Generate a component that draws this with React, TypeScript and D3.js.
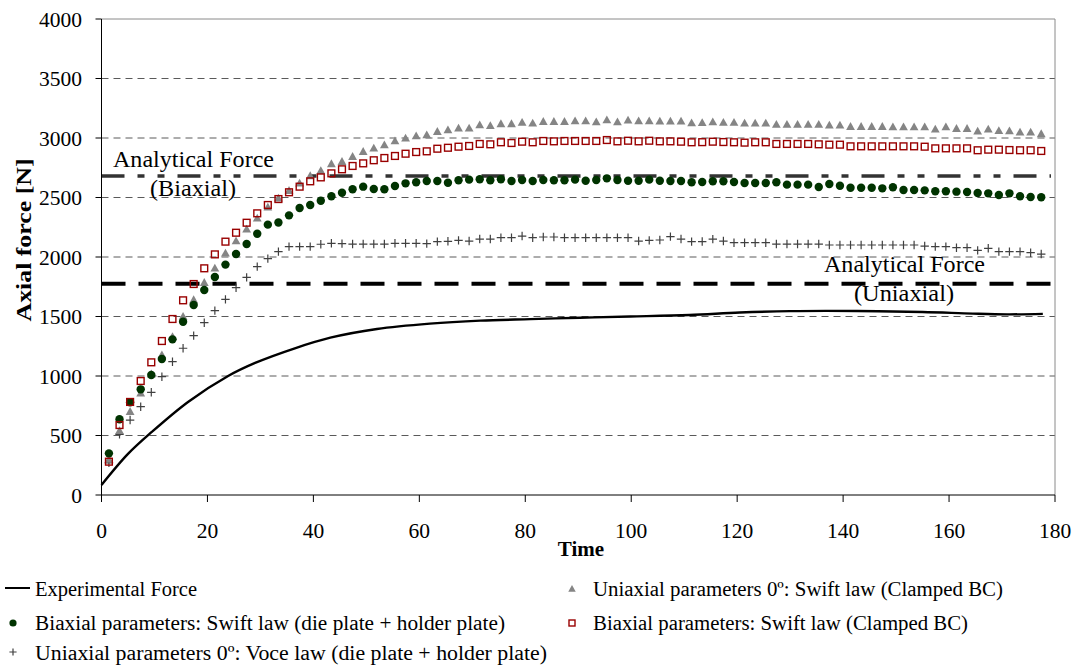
import React from "react";
import * as d3 from "d3";

// ---- data ----
const simTime: number[] = d3.range(1.4, 178, 2);

const expTime = [0, 5, 9.5, 16.4, 23.9, 29, 36.5, 43.2, 52, 62, 71.5, 81, 90.3, 99.8, 111, 120.5, 130, 142.6, 155, 164.5, 171, 177.7];
const expForce = [84, 345, 530, 784, 1000, 1110, 1233, 1322, 1395, 1440, 1465, 1478, 1490, 1500, 1513, 1533, 1545, 1546, 1538, 1524, 1518, 1522];

const biaxSwiftDie = [
  350, 636, 779, 888, 1008, 1143, 1308, 1456, 1597, 1723, 1832, 1936, 2025, 2109, 2196, 2272, 2290, 2350, 2412, 2437, 2473, 2510, 2540, 2569,
  2591, 2571, 2569, 2597, 2619, 2628, 2639, 2639, 2624, 2645, 2650, 2653, 2645, 2653, 2639, 2647, 2639, 2647, 2645, 2645, 2650, 2641, 2647, 2661, 2647, 2641, 2641, 2650, 2641, 2639, 2639, 2628, 2630, 2636,
  2636, 2630, 2622, 2622, 2622, 2628, 2608, 2608, 2608, 2588, 2613, 2599, 2582, 2582, 2582, 2577, 2586, 2563, 2563, 2560, 2552, 2552, 2549, 2546, 2538, 2535, 2521, 2535, 2510, 2504, 2502,
];

const uniSwiftClamped = [
  300, 540, 700, 854, 1015, 1176, 1330, 1499, 1639, 1784, 1905, 2031, 2134, 2233, 2325, 2418, 2493, 2557, 2619, 2681, 2725, 2782, 2801, 2843,
  2885, 2913, 2941, 2975, 2997, 3017, 3025, 3053, 3067, 3082, 3082, 3109, 3103, 3118, 3118, 3129, 3124, 3137, 3137, 3137, 3143, 3143, 3134, 3151, 3134, 3149, 3143, 3143, 3140, 3140, 3140, 3126, 3127, 3134,
  3129, 3129, 3124, 3124, 3124, 3112, 3112, 3112, 3112, 3112, 3107, 3107, 3095, 3095, 3095, 3095, 3092, 3092, 3092, 3092, 3073, 3092, 3078, 3078, 3056, 3073, 3061, 3059, 3048, 3048, 3034,
];

const biaxSwiftClamped = [
  280, 588, 782, 958, 1115, 1294, 1479, 1636, 1773, 1905, 2022, 2129, 2204, 2288, 2367, 2437, 2487, 2544, 2591, 2636, 2669, 2703, 2737, 2765,
  2787, 2813, 2832, 2849, 2868, 2882, 2888, 2910, 2918, 2927, 2933, 2950, 2947, 2964, 2958, 2969, 2964, 2975, 2972, 2975, 2975, 2975, 2975, 2983, 2972, 2977, 2972, 2977, 2972, 2972, 2969, 2964, 2965, 2969,
  2966, 2964, 2961, 2964, 2964, 2950, 2950, 2950, 2950, 2947, 2944, 2944, 2930, 2930, 2930, 2930, 2930, 2930, 2930, 2927, 2913, 2913, 2913, 2913, 2897, 2902, 2902, 2899, 2897, 2897, 2891,
];

const uniVoceDie = [
  270, 510, 630, 742, 863, 994, 1120, 1233, 1339, 1448, 1549, 1644, 1742, 1829, 1919, 1986, 2045, 2087, 2087, 2087, 2107, 2115, 2112, 2109,
  2109, 2109, 2109, 2115, 2115, 2115, 2112, 2129, 2132, 2140, 2134, 2151, 2151, 2162, 2162, 2176, 2162, 2168, 2168, 2162, 2162, 2162, 2162, 2162, 2162, 2162, 2134, 2140, 2143, 2171, 2151, 2129, 2130, 2150,
  2134, 2120, 2120, 2120, 2120, 2109, 2109, 2109, 2109, 2109, 2101, 2101, 2101, 2101, 2101, 2101, 2101, 2101, 2101, 2092, 2087, 2087, 2078, 2078, 2056, 2073, 2045, 2045, 2045, 2036, 2025,
];

const analyticalBiaxial = 2681;
const analyticalUniaxial = 1776;

const xTicks = [0, 20, 40, 60, 80, 100, 120, 140, 160, 180];
const yTicks = [0, 500, 1000, 1500, 2000, 2500, 3000, 3500, 4000];

const legendLabels = [
  "Experimental Force",
  "Biaxial parameters: Swift law (die plate + holder plate)",
  "Uniaxial parameters 0º: Voce law (die plate + holder plate)",
  "Uniaxial parameters 0º: Swift law (Clamped BC)",
  "Biaxial parameters: Swift law (Clamped BC)",
];

// ---- styles ----
const FONT = "'Liberation Serif', 'Times New Roman', serif";
const GREEN = "#003300";
const GREY = "#858585";
const RED = "#990000";
const PLUS = "#404040";

const Dot = ({ x, y, r = 4.2 }: { x: number; y: number; r?: number }) => <circle cx={x} cy={y} r={r} fill={GREEN} />;
const Tri = ({ x, y, s = 1 }: { x: number; y: number; s?: number }) => (
  <path d={`M${x},${y - 4.6 * s}L${x + 4.4 * s},${y + 3.2 * s}L${x - 4.4 * s},${y + 3.2 * s}Z`} fill={GREY} />
);
const Sq = ({ x, y, s = 3.4 }: { x: number; y: number; s?: number }) => (
  <rect x={x - s} y={y - s} width={2 * s} height={2 * s} fill="none" stroke={RED} strokeWidth={1.4} />
);
const Plus = ({ x, y, s = 4.2 }: { x: number; y: number; s?: number }) => (
  <path d={`M${x - s},${y}H${x + s}M${x},${y - s}V${y + s}`} stroke={PLUS} strokeWidth={1.2} />
);

export default function App() {
  const W = 1080;
  const H = 670;
  const x = d3.scaleLinear().domain([0, 180]).range([101.5, 1055]);
  const y = d3.scaleLinear().domain([0, 4000]).range([495, 19]);

  const expLine = d3
    .line<number>()
    .x((_, i) => x(expTime[i]))
    .y((d) => y(d))
    .curve(d3.curveCatmullRom.alpha(0.5))(expForce) as string;

  const x0 = x(0);
  const x1 = x(180);

  return (
    <svg width={W} height={H} style={{ position: "absolute", left: 0, top: 0, background: "#fff" }} fontFamily={FONT}>
      <rect x={0} y={0} width={W} height={H} fill="#fff" />
      {/* grid */}
      {yTicks
        .filter((t) => t > 0 && t < 4000)
        .map((t) => (
          <line key={"g" + t} x1={x0} x2={x1} y1={y(t)} y2={y(t)} stroke="#5a5a5a" strokeWidth={1} strokeDasharray="7,5" />
        ))}
      {/* frame top/right */}
      <line x1={x0} x2={x1} y1={y(4000)} y2={y(4000)} stroke="#8a8a8a" strokeWidth={1} />
      <line x1={x1} x2={x1} y1={y(4000)} y2={y(0)} stroke="#8a8a8a" strokeWidth={1} />

      {/* analytical lines */}
      <line x1={x0} x2={x1 - 4} y1={y(analyticalBiaxial)} y2={y(analyticalBiaxial)} stroke="#333" strokeWidth={3.4} strokeDasharray="23,13,7,13,7,13" />
      <line x1={x0} x2={x1 - 4} y1={y(analyticalUniaxial)} y2={y(analyticalUniaxial)} stroke="#000" strokeWidth={4} strokeDasharray="24,13" />

      {/* experimental */}
      <path d={expLine} fill="none" stroke="#000" strokeWidth={2.4} />

      {/* series */}
      {simTime.map((t, i) => (
        <Plus key={"p" + i} x={x(t)} y={y(uniVoceDie[i])} />
      ))}
      {simTime.map((t, i) => (
        <Tri key={"t" + i} x={x(t)} y={y(uniSwiftClamped[i])} />
      ))}
      {simTime.map((t, i) => (
        <Dot key={"d" + i} x={x(t)} y={y(biaxSwiftDie[i])} />
      ))}
      {simTime.map((t, i) => (
        <Sq key={"s" + i} x={x(t)} y={y(biaxSwiftClamped[i])} />
      ))}

      {/* axes */}
      <line x1={x0} x2={x0} y1={y(4000)} y2={y(0)} stroke="#000" strokeWidth={1} />
      <line x1={x0} x2={x1} y1={y(0)} y2={y(0)} stroke="#000" strokeWidth={1} />
      {yTicks.map((t) => (
        <g key={"yt" + t}>
          <line x1={x0 - 6} x2={x0} y1={y(t)} y2={y(t)} stroke="#000" />
          <text x={82} y={y(t)} dy="0.35em" textAnchor="end" fontSize={21.5} fill="#000">
            {t}
          </text>
        </g>
      ))}
      {xTicks.map((t) => (
        <g key={"xt" + t}>
          <line x1={x(t)} x2={x(t)} y1={y(0)} y2={y(0) + 7} stroke="#000" />
          <text x={x(t)} y={537.5} textAnchor="middle" fontSize={21.5} fill="#000">
            {t}
          </text>
        </g>
      ))}
      <text x={581} y={556} textAnchor="middle" fontSize={21} fontWeight="bold">
        Time
      </text>
      <text transform="translate(31,240) rotate(-90)" textAnchor="middle" fontSize={21} fontWeight="bold" textLength={163} lengthAdjust="spacingAndGlyphs">
        Axial force [N]
      </text>

      {/* annotations */}
      <text x={113} y={167} fontSize={23.5} textLength={161} lengthAdjust="spacingAndGlyphs">Analytical Force</text>
      <text x={150} y={196} fontSize={23.5} textLength={86} lengthAdjust="spacingAndGlyphs">(Biaxial)</text>
      <text x={824} y={272} fontSize={23.5} textLength={161} lengthAdjust="spacingAndGlyphs">Analytical Force</text>
      <text x={854} y={301} fontSize={23.5} textLength={100} lengthAdjust="spacingAndGlyphs">(Uniaxial)</text>

      {/* legend */}
      <line x1={5} x2={30} y1={588} y2={588} stroke="#000" strokeWidth={2} />
      <text x={35} y={596} fontSize={20.5} textLength={162} lengthAdjust="spacingAndGlyphs">{legendLabels[0]}</text>
      <Dot x={13} y={623} r={3.6} />
      <text x={35} y={630} fontSize={20.5} textLength={470} lengthAdjust="spacingAndGlyphs">{legendLabels[1]}</text>
      <Plus x={13} y={652} s={3.6} />
      <text x={35} y={660} fontSize={20.5} textLength={512} lengthAdjust="spacingAndGlyphs">{legendLabels[2]}</text>
      <Tri x={572} y={589} s={0.85} />
      <text x={593} y={596} fontSize={20.5} textLength={410} lengthAdjust="spacingAndGlyphs">{legendLabels[3]}</text>
      <Sq x={572} y={623} s={3} />
      <text x={593} y={630} fontSize={20.5} textLength={375} lengthAdjust="spacingAndGlyphs">{legendLabels[4]}</text>
    </svg>
  );
}
